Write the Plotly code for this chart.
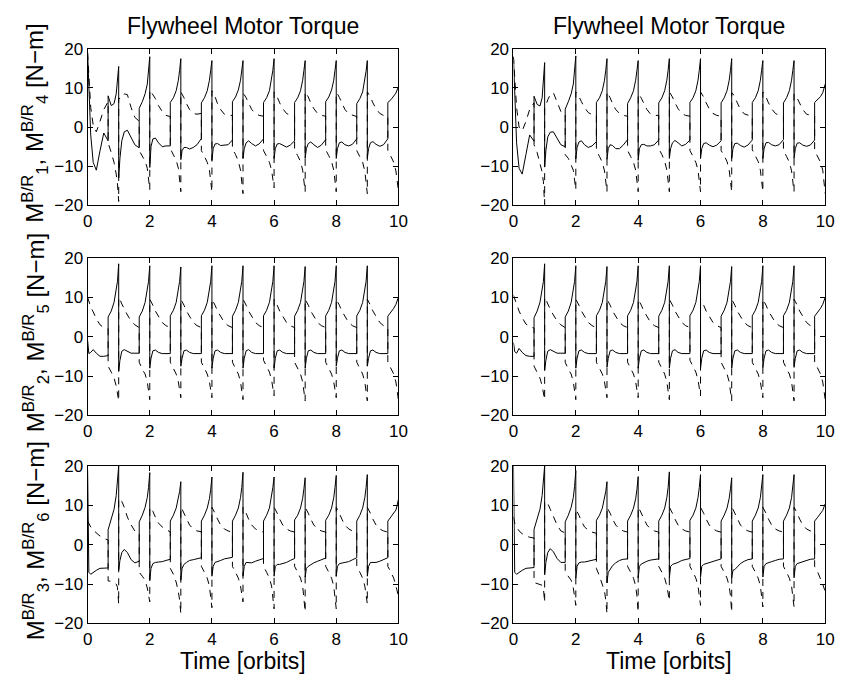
import plotly.graph_objects as go

# Sample instants inside one orbit (two entries at 0.66 and at the orbit
# boundary give the vertical switching edges).
FRAC = [0.00, 0.04, 0.10, 0.18, 0.28, 0.40, 0.52, 0.66, 0.66, 0.76, 0.85, 0.92, 0.96, 1.00]
ORBITS = list(range(10))
time = [k + f for k in ORBITS for f in FRAC]

X_TICKS = [0, 2, 4, 6, 8, 10]
Y_TICKS = [-20, -10, 0, 10, 20]

# ---- left column -----------------------------------------------------------
left_m1 = [
    19.0, 9.0, -2.0, -9.0, -11.0, -6.0, -1.5, -3.5, 8.0, 5.5, 6.0, 8.5, 11.5, 15.5,
    -13.0, -8.0, -3.5, -1.2, -0.8, -2.5, -4.5, -5.3, 4.8, 6.5, 8.5, 11.0, 14.0, 18.0,
    -10.3, -5.0, -3.0, -2.8, -4.0, -5.0, -4.8, -4.8, 6.3, 7.5, 9.3, 12.0, 14.5, 17.5,
    -8.3, -6.0, -5.2, -5.2, -5.6, -5.2, -4.5, -2.9, 6.2, 7.5, 9.3, 12.0, 14.5, 17.0,
    -8.5, -5.5, -4.3, -4.2, -4.7, -4.6, -4.5, -3.3, 6.5, 7.7, 9.5, 12.0, 14.5, 17.0,
    -8.0, -5.5, -4.0, -3.5, -4.2, -4.8, -4.3, -3.0, 6.3, 7.5, 9.3, 12.0, 14.5, 17.5,
    -8.0, -5.5, -4.3, -4.2, -4.6, -5.1, -4.6, -3.5, 6.3, 7.5, 9.3, 12.0, 14.5, 17.0,
    -8.0, -5.5, -4.2, -3.8, -4.5, -5.2, -4.6, -3.2, 6.5, 7.7, 9.5, 12.0, 14.5, 17.0,
    -8.0, -5.5, -4.0, -3.8, -4.5, -4.8, -4.4, -3.0, 6.0, 7.3, 9.0, 11.8, 14.3, 17.0,
    -8.0, -5.5, -4.0, -3.7, -4.4, -4.9, -4.5, -3.0, 6.3, 7.0, 7.8, 8.7, 9.5, 10.3,
]
left_m4 = [
    19.0, 12.0, 5.0, 0.5, -1.2, 1.5, 4.5, 6.5, -4.0, -6.5, -9.0, -12.0, -14.5, -19.0,
    7.5, 7.2, 7.8, 8.5, 8.3, 5.0, 2.5, 1.5, -6.0, -7.5, -8.7, -10.5, -13.0, -16.0,
    9.5, 9.0, 8.3, 7.3, 5.5, 4.0, 3.0, 2.7, -5.5, -7.0, -8.5, -10.5, -13.0, -16.5,
    9.0, 8.5, 7.5, 6.0, 4.5, 3.5, 3.3, 3.5, -6.0, -7.5, -9.0, -11.0, -13.5, -16.5,
    9.3, 8.8, 7.8, 6.0, 4.5, 3.3, 3.0, 3.0, -5.5, -7.0, -8.7, -11.0, -13.5, -17.0,
    8.5, 8.3, 7.5, 6.0, 4.5, 3.5, 3.0, 2.8, -6.0, -7.5, -9.0, -11.0, -13.0, -15.5,
    9.0, 8.6, 7.7, 6.2, 4.7, 3.5, 3.0, 2.8, -6.0, -7.3, -8.8, -11.0, -13.5, -16.5,
    9.0, 8.6, 7.7, 6.2, 4.7, 3.5, 3.0, 2.8, -5.8, -7.3, -8.8, -11.0, -13.5, -16.5,
    8.8, 8.5, 7.6, 6.0, 4.5, 3.4, 3.0, 2.7, -6.0, -7.5, -9.0, -11.2, -13.7, -17.0,
    9.0, 8.6, 7.7, 6.2, 4.7, 3.5, 3.0, 2.8, -6.0, -7.5, -9.0, -11.2, -13.5, -16.2,
]
left_m2 = [
    -1.0, -4.3, -4.0, -3.3, -4.2, -5.0, -5.0, -4.8, 5.0, 6.5, 8.7, 11.5, 14.0, 18.5,
    -8.8, -6.0, -3.7, -3.3, -3.8, -4.2, -4.2, -4.2, 5.0, 6.5, 8.7, 11.5, 14.0, 18.0,
    -8.0, -5.5, -3.6, -3.4, -4.0, -4.3, -4.3, -4.3, 5.3, 6.7, 8.7, 11.5, 14.0, 17.7,
    -7.5, -5.5, -3.6, -3.4, -4.0, -4.3, -4.3, -4.3, 5.3, 6.7, 8.7, 11.5, 14.0, 18.0,
    -8.0, -5.5, -3.6, -3.4, -4.0, -4.3, -4.3, -4.3, 5.2, 6.7, 8.7, 11.5, 14.0, 18.0,
    -8.0, -5.5, -3.6, -3.3, -4.0, -4.3, -4.3, -4.3, 5.3, 6.7, 8.7, 11.5, 14.0, 18.0,
    -8.0, -5.5, -3.6, -3.4, -4.0, -4.3, -4.3, -4.3, 5.2, 6.7, 8.7, 11.5, 14.0, 17.8,
    -8.0, -5.5, -3.6, -3.4, -4.0, -4.3, -4.3, -4.3, 5.3, 6.7, 8.7, 11.5, 14.0, 18.0,
    -7.5, -5.5, -3.6, -3.4, -4.0, -4.3, -4.3, -4.3, 5.3, 6.7, 8.7, 11.5, 14.0, 18.0,
    -7.5, -5.5, -3.6, -3.4, -4.0, -4.3, -4.3, -4.3, 5.2, 6.2, 7.2, 8.2, 9.0, 10.0,
]
left_m5 = [
    10.0, 9.0, 7.5, 6.3, 4.5, 3.0, 2.3, 2.0, -7.5, -9.0, -10.5, -12.5, -14.5, -16.3,
    10.0, 9.5, 8.3, 7.0, 5.5, 4.0, 3.0, 2.3, -6.5, -8.3, -9.5, -11.5, -13.5, -16.0,
    9.5, 9.0, 8.0, 6.5, 5.0, 3.6, 2.8, 2.3, -6.5, -8.0, -9.5, -11.5, -13.5, -15.5,
    9.5, 9.0, 8.0, 6.5, 5.0, 3.6, 2.8, 2.3, -6.5, -8.0, -9.5, -11.5, -13.5, -15.5,
    9.5, 9.0, 8.0, 6.5, 5.0, 3.6, 2.8, 2.3, -6.5, -8.0, -9.5, -11.5, -13.5, -16.0,
    9.5, 9.0, 8.0, 6.5, 5.0, 3.6, 2.8, 2.3, -6.0, -7.5, -9.0, -11.0, -13.0, -15.0,
    9.5, 9.0, 8.0, 6.5, 5.0, 3.6, 2.8, 2.3, -6.5, -8.0, -9.5, -11.5, -13.5, -16.3,
    9.5, 9.0, 8.0, 6.5, 5.0, 3.6, 2.8, 2.3, -6.5, -8.0, -9.5, -11.5, -13.5, -15.5,
    9.5, 9.0, 8.0, 6.5, 5.0, 3.6, 2.8, 2.3, -6.5, -8.0, -9.5, -11.5, -13.5, -16.3,
    9.5, 9.0, 8.0, 6.5, 5.0, 3.6, 2.8, 2.3, -6.5, -8.0, -9.5, -11.5, -13.5, -16.0,
]
left_m3 = [
    19.0, -7.0, -7.5, -7.0, -6.5, -6.0, -6.0, -5.9, 3.8, 6.5, 9.0, 12.5, 15.5, 20.0,
    -6.5, -4.0, -2.0, -1.2, -2.0, -3.8, -4.6, -4.2, 5.8, 7.5, 9.5, 12.0, 14.5, 18.3,
    -9.0, -6.0, -4.8, -4.5, -4.4, -4.3, -4.0, -3.7, 6.0, 7.5, 9.3, 11.5, 13.5, 16.0,
    -9.0, -6.0, -5.0, -4.5, -4.0, -3.8, -3.5, -3.3, 6.0, 7.5, 9.3, 11.7, 14.0, 17.2,
    -8.0, -5.5, -4.5, -4.2, -4.0, -3.6, -3.4, -3.2, 6.0, 7.5, 9.3, 12.0, 14.5, 18.4,
    -8.0, -5.5, -4.5, -4.6, -4.6, -4.2, -3.8, -3.5, 6.0, 7.5, 9.3, 12.0, 14.5, 17.2,
    -8.0, -5.5, -5.0, -5.0, -4.8, -4.5, -4.0, -3.5, 6.3, 7.5, 9.3, 11.8, 14.2, 17.0,
    -8.2, -6.0, -5.5, -5.0, -4.6, -4.2, -3.8, -3.4, 6.2, 7.5, 9.3, 12.0, 14.5, 17.6,
    -8.0, -5.5, -4.8, -4.6, -4.5, -4.3, -3.8, -3.3, 6.0, 7.5, 9.3, 12.0, 14.5, 17.8,
    -8.0, -5.5, -4.5, -4.5, -4.5, -4.2, -3.8, -3.3, 6.0, 7.0, 7.8, 8.8, 10.0, 11.5,
]
left_m6 = [
    6.0, 5.3, 4.5, 3.7, 3.0, 2.2, 1.6, 1.2, -9.2, -9.3, -9.6, -10.0, -10.8, -15.0,
    11.8, 11.5, 11.0, 9.5, 7.0, 5.0, 3.5, 3.0, -7.0, -8.0, -9.0, -11.0, -13.0, -14.5,
    9.5, 9.0, 8.5, 7.0, 5.5, 4.5, 3.8, 3.3, -6.0, -7.5, -9.5, -12.0, -14.0, -17.5,
    9.5, 9.0, 8.0, 6.5, 5.0, 4.0, 3.5, 3.3, -5.5, -7.0, -8.5, -10.5, -13.0, -16.0,
    9.5, 9.0, 8.0, 6.5, 5.0, 4.0, 3.5, 3.2, -5.5, -7.0, -8.5, -10.5, -12.5, -14.5,
    9.5, 9.0, 8.0, 6.5, 5.0, 4.0, 3.5, 3.2, -5.5, -7.0, -8.5, -10.5, -13.0, -16.3,
    9.5, 9.0, 8.0, 6.5, 5.0, 4.0, 3.5, 3.2, -5.5, -7.0, -8.5, -10.5, -13.0, -17.0,
    9.5, 9.0, 8.0, 6.5, 5.0, 4.0, 3.5, 3.2, -5.5, -7.0, -8.5, -10.5, -13.0, -16.3,
    9.5, 9.0, 8.0, 6.5, 5.0, 4.0, 3.5, 3.2, -5.5, -7.0, -8.5, -10.5, -13.0, -15.0,
    9.5, 9.0, 8.0, 6.5, 5.0, 4.0, 3.5, 3.2, -5.5, -7.0, -8.5, -10.5, -12.0, -13.0,
]

# ---- right column ----------------------------------------------------------
right_m1 = [
    18.0, 8.0, -4.0, -10.5, -12.0, -7.0, -2.0, -3.6, 7.9, 5.8, 5.4, 7.5, 11.0, 16.5,
    -10.2, -6.0, -2.5, -1.3, -1.2, -2.8, -4.5, -5.0, 4.6, 6.5, 8.5, 11.0, 14.0, 18.2,
    -8.1, -5.2, -3.8, -3.5, -4.5, -5.2, -4.8, -3.7, 6.3, 7.5, 9.3, 12.0, 14.5, 17.5,
    -8.2, -5.5, -4.5, -4.7, -5.5, -5.5, -4.6, -3.2, 6.0, 7.5, 9.3, 12.0, 14.5, 17.0,
    -8.5, -5.5, -4.5, -4.4, -4.8, -4.8, -4.5, -3.3, 6.2, 7.5, 9.3, 12.0, 14.5, 17.5,
    -8.0, -5.5, -4.0, -3.4, -4.0, -4.8, -4.4, -3.3, 6.3, 7.5, 9.3, 12.0, 14.5, 17.5,
    -8.0, -5.5, -4.2, -4.0, -4.6, -5.0, -4.6, -3.5, 6.2, 7.5, 9.3, 12.0, 14.5, 17.5,
    -8.0, -5.5, -4.2, -4.1, -4.7, -5.1, -4.6, -3.3, 6.3, 7.5, 9.3, 12.0, 14.5, 17.0,
    -8.0, -5.5, -4.0, -3.9, -4.5, -4.8, -4.5, -3.2, 6.2, 7.5, 9.3, 12.0, 14.5, 17.0,
    -8.0, -5.5, -4.1, -4.0, -4.6, -4.9, -4.6, -3.3, 6.3, 7.0, 7.8, 8.8, 9.8, 11.0,
]
right_m4 = [
    18.0, 12.0, 5.0, 0.0, -1.0, 1.5, 4.5, 6.2, -4.5, -6.5, -9.0, -11.5, -14.0, -19.8,
    5.0, 5.5, 7.0, 8.3, 8.8, 6.5, 4.0, 3.5, -7.0, -8.0, -9.5, -11.0, -13.5, -16.0,
    9.0, 8.6, 7.8, 6.5, 5.0, 3.7, 3.2, 3.0, -6.0, -7.5, -9.0, -11.2, -13.5, -16.5,
    9.0, 8.5, 7.5, 6.0, 4.5, 3.5, 3.0, 2.8, -6.0, -7.5, -9.0, -11.0, -13.5, -16.5,
    8.5, 8.2, 7.4, 6.0, 4.5, 3.3, 3.0, 3.0, -5.5, -7.0, -8.7, -11.0, -13.5, -16.5,
    9.0, 8.6, 7.7, 6.2, 4.7, 3.5, 3.0, 2.8, -6.0, -7.5, -9.0, -11.0, -13.5, -16.5,
    9.0, 8.6, 7.7, 6.2, 4.7, 3.5, 3.0, 2.8, -6.0, -7.3, -8.8, -11.0, -13.5, -16.5,
    8.8, 8.5, 7.6, 6.0, 4.5, 3.4, 3.0, 2.7, -5.8, -7.3, -8.8, -11.0, -13.5, -16.5,
    9.0, 8.6, 7.7, 6.2, 4.7, 3.5, 3.0, 2.8, -6.0, -7.5, -9.0, -11.2, -13.5, -16.5,
    8.5, 8.2, 7.4, 6.0, 4.5, 3.3, 3.0, 2.8, -6.0, -7.5, -9.0, -11.0, -13.5, -17.0,
]
right_m2 = [
    -1.5, -3.8, -4.2, -3.0, -4.0, -4.8, -5.0, -5.0, 4.8, 6.5, 8.7, 11.5, 14.0, 18.5,
    -8.5, -6.0, -3.7, -3.3, -3.8, -4.2, -4.2, -4.2, 5.0, 6.5, 8.7, 11.5, 14.0, 18.0,
    -8.0, -5.5, -3.6, -3.4, -4.0, -4.3, -4.3, -4.3, 5.3, 6.7, 8.7, 11.5, 14.0, 17.8,
    -7.8, -5.5, -3.6, -3.4, -4.0, -4.3, -4.3, -4.3, 5.3, 6.7, 8.7, 11.5, 14.0, 18.0,
    -8.0, -5.5, -3.6, -3.4, -4.0, -4.3, -4.3, -4.3, 5.2, 6.7, 8.7, 11.5, 14.0, 18.0,
    -8.0, -5.5, -3.6, -3.3, -4.0, -4.3, -4.3, -4.3, 5.3, 6.7, 8.7, 11.5, 14.0, 18.0,
    -8.0, -5.5, -3.6, -3.4, -4.0, -4.3, -4.3, -4.3, 5.2, 6.7, 8.7, 11.5, 14.0, 17.8,
    -8.0, -5.5, -3.6, -3.4, -4.0, -4.3, -4.3, -4.3, 5.3, 6.7, 8.7, 11.5, 14.0, 18.0,
    -7.8, -5.5, -3.6, -3.4, -4.0, -4.3, -4.3, -4.3, 5.3, 6.7, 8.7, 11.5, 14.0, 18.0,
    -7.8, -5.5, -3.6, -3.4, -4.0, -4.3, -4.3, -4.3, 5.2, 6.2, 7.2, 8.2, 9.0, 10.0,
]
right_m5 = [
    10.5, 9.5, 8.0, 6.5, 4.8, 3.2, 2.5, 2.2, -7.5, -9.0, -10.5, -12.5, -14.5, -16.0,
    10.0, 9.5, 8.3, 7.0, 5.5, 4.0, 3.0, 2.3, -6.5, -8.3, -9.5, -11.5, -13.5, -16.0,
    9.5, 9.0, 8.0, 6.5, 5.0, 3.6, 2.8, 2.3, -6.5, -8.0, -9.5, -11.5, -13.5, -15.5,
    9.5, 9.0, 8.0, 6.5, 5.0, 3.6, 2.8, 2.3, -6.5, -8.0, -9.5, -11.5, -13.5, -15.5,
    9.5, 9.0, 8.0, 6.5, 5.0, 3.6, 2.8, 2.3, -6.5, -8.0, -9.5, -11.5, -13.5, -16.0,
    9.5, 9.0, 8.0, 6.5, 5.0, 3.6, 2.8, 2.3, -6.0, -7.5, -9.0, -11.0, -13.0, -15.0,
    9.5, 9.0, 8.0, 6.5, 5.0, 3.6, 2.8, 2.3, -6.5, -8.0, -9.5, -11.5, -13.5, -16.3,
    9.5, 9.0, 8.0, 6.5, 5.0, 3.6, 2.8, 2.3, -6.5, -8.0, -9.5, -11.5, -13.5, -15.5,
    9.5, 9.0, 8.0, 6.5, 5.0, 3.6, 2.8, 2.3, -6.5, -8.0, -9.5, -11.5, -13.5, -16.3,
    9.5, 9.0, 8.0, 6.5, 5.0, 3.6, 2.8, 2.3, -6.5, -8.0, -9.5, -11.5, -13.5, -16.0,
]
right_m3 = [
    20.0, -7.0, -7.5, -7.0, -6.5, -6.0, -5.9, -5.8, 3.9, 6.5, 9.0, 12.5, 15.5, 20.0,
    -7.6, -4.5, -2.0, -1.0, -1.8, -3.5, -4.5, -4.5, 5.8, 7.5, 9.5, 12.0, 14.8, 18.8,
    -8.5, -5.5, -4.6, -4.4, -4.4, -4.2, -3.9, -3.7, 6.2, 7.5, 9.3, 11.5, 13.5, 16.0,
    -9.7, -7.0, -6.1, -5.3, -4.6, -4.0, -3.7, -3.6, 6.0, 7.5, 9.3, 11.7, 14.0, 17.3,
    -8.4, -5.5, -4.9, -4.5, -4.2, -3.9, -3.7, -3.6, 6.0, 7.5, 9.3, 12.0, 14.5, 18.5,
    -8.5, -5.5, -5.0, -4.8, -4.5, -4.0, -3.7, -3.5, 6.2, 7.5, 9.3, 12.0, 14.5, 17.8,
    -8.2, -5.5, -5.0, -4.8, -4.5, -4.1, -3.8, -3.6, 6.0, 7.5, 9.3, 11.8, 14.2, 17.0,
    -8.4, -6.5, -6.3, -5.6, -4.8, -4.2, -3.8, -3.6, 6.0, 7.5, 9.3, 12.0, 14.5, 17.8,
    -8.2, -5.5, -4.8, -4.5, -4.3, -4.0, -3.7, -3.6, 6.0, 7.5, 9.3, 12.0, 14.5, 17.8,
    -8.4, -5.5, -4.8, -4.6, -4.3, -4.0, -3.7, -3.6, 6.0, 7.0, 7.8, 8.7, 9.6, 10.4,
]
right_m6 = [
    7.0, 5.5, 4.5, 3.5, 2.8, 2.2, 1.9, 1.7, -9.6, -9.8, -10.0, -10.3, -11.0, -14.6,
    11.0, 10.8, 10.5, 9.0, 7.0, 5.0, 3.5, 3.0, -7.0, -8.0, -9.0, -11.0, -13.0, -15.4,
    9.0, 8.5, 7.5, 6.0, 4.5, 3.7, 3.2, 2.9, -6.0, -8.0, -10.0, -11.8, -14.0, -17.5,
    9.5, 9.0, 8.0, 6.5, 5.0, 4.0, 3.5, 3.2, -5.5, -7.0, -8.5, -10.5, -13.0, -17.1,
    9.5, 9.0, 8.0, 6.5, 5.0, 4.0, 3.5, 3.2, -5.5, -7.0, -8.5, -10.5, -12.5, -14.2,
    9.5, 9.0, 8.0, 6.5, 5.0, 4.0, 3.5, 3.2, -5.5, -7.0, -8.5, -10.5, -13.0, -15.4,
    9.5, 9.0, 8.0, 6.5, 5.0, 4.0, 3.5, 3.2, -5.5, -7.0, -8.5, -10.5, -13.0, -17.1,
    9.5, 9.0, 8.0, 6.5, 5.0, 4.0, 3.5, 3.2, -5.5, -7.0, -8.5, -10.5, -13.0, -15.8,
    9.5, 9.0, 8.0, 6.5, 5.0, 4.0, 3.5, 3.2, -5.5, -7.0, -8.5, -10.5, -13.0, -15.8,
    9.5, 9.0, 8.0, 6.5, 5.0, 4.0, 3.5, 3.2, -5.5, -7.0, -8.5, -10.0, -11.0, -11.7,
]

Y_LABELS = [
    "M<sup>B/R</sup><sub>1</sub>, M<sup>B/R</sup><sub>4</sub> [N\u2212m]",
    "M<sup>B/R</sup><sub>2</sub>, M<sup>B/R</sup><sub>5</sub> [N\u2212m]",
    "M<sup>B/R</sup><sub>3</sub>, M<sup>B/R</sup><sub>6</sub> [N\u2212m]",
]
TITLE = "Flywheel Motor Torque"
X_LABEL = "Time [orbits]"

W, H = 848, 685
FONT = "Liberation Sans, Arial, Helvetica, sans-serif"

# panel frames in pixels: (left, right) per column, (top, bottom) per row
COLS = [(84, 400), (517, 834)]
ROWS = [(41, 202), (256, 418), (470, 632)]

panels = [
    (0, 0, left_m1, left_m4), (1, 0, right_m1, right_m4),
    (0, 1, left_m2, left_m5), (1, 1, right_m2, right_m5),
    (0, 2, left_m3, left_m6), (1, 2, right_m3, right_m6),
]

fig = go.Figure()
layout = dict(
    width=W, height=H, autosize=False,
    margin=dict(l=0, r=0, t=0, b=0),
    paper_bgcolor="white", plot_bgcolor="white",
    showlegend=False,
    font=dict(family=FONT, color="black"),
)

for i, (c, r, solid, dashed) in enumerate(panels, start=1):
    xa = "x" if i == 1 else f"x{i}"
    ya = "y" if i == 1 else f"y{i}"
    fig.add_trace(go.Scatter(x=time, y=solid, mode="lines", xaxis=xa, yaxis=ya,
                             line=dict(color="black", width=1)))
    fig.add_trace(go.Scatter(x=time, y=dashed, mode="lines", xaxis=xa, yaxis=ya,
                             line=dict(color="black", width=1, dash="7px,6px")))
    x0, x1 = COLS[c]
    y0, y1 = ROWS[r]
    common = dict(showline=True, linecolor="black", linewidth=1, mirror="ticks",
                  ticks="inside", ticklen=5, tickwidth=1, tickcolor="black",
                  showgrid=False, zeroline=False, fixedrange=True,
                  tickfont=dict(family=FONT, size=17, color="black"))
    layout["xaxis" if i == 1 else f"xaxis{i}"] = dict(
        domain=[x0 / W, x1 / W], range=[0, 10], tickvals=X_TICKS,
        anchor=ya, **common)
    layout["yaxis" if i == 1 else f"yaxis{i}"] = dict(
        domain=[1 - y1 / H, 1 - y0 / H], range=[-20, 20], tickvals=Y_TICKS,
        anchor=xa, **common)

annotations = []
for c in range(2):
    x0, x1 = COLS[c]
    annotations.append(dict(text=TITLE, x=(x0 + x1) / 2 / W, y=1 - 17 / H,
                            xref="paper", yref="paper", showarrow=False,
                            xanchor="center", yanchor="middle",
                            font=dict(family=FONT, size=23, color="black")))
    annotations.append(dict(text=X_LABEL, x=(x0 + x1) / 2 / W, y=1 - 671 / H,
                            xref="paper", yref="paper", showarrow=False,
                            xanchor="center", yanchor="middle",
                            font=dict(family=FONT, size=23, color="black")))
for r, label in enumerate(Y_LABELS):
    y0, y1 = ROWS[r]
    annotations.append(dict(text=label, x=31 / W, y=1 - ((y0 + y1) / 2 - 4) / H,
                            xref="paper", yref="paper", showarrow=False,
                            textangle=-90, xanchor="center", yanchor="middle",
                            font=dict(family=FONT, size=24, color="black")))
layout["annotations"] = annotations

fig.update_layout(**layout)
fig.write_html("out.html")
